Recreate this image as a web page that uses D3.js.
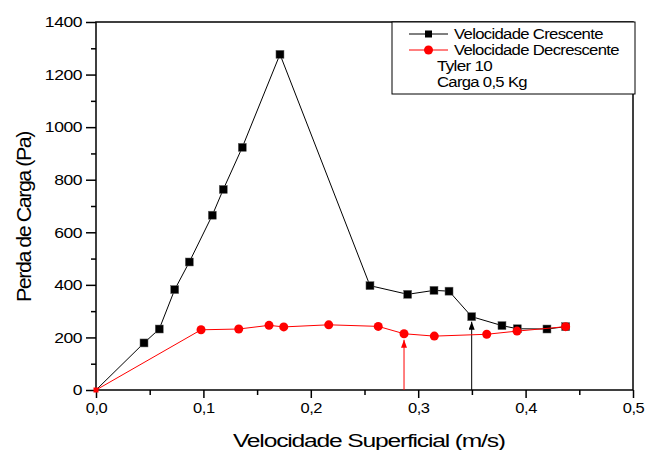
<!DOCTYPE html>
<html>
<head>
<meta charset="utf-8">
<script src="https://cdn.jsdelivr.net/npm/d3@7"></script>
<style>
  html, body { margin: 0; padding: 0; background: #fff; }
  svg { display: block; font-family: "Liberation Sans", Arial, sans-serif; }
</style>
</head>
<body>
<svg id="chart" width="646" height="450"></svg>
<script>
// ---- Data ----
const xBlack = [0, 0.0447, 0.0589, 0.0733, 0.0869, 0.1083, 0.1185, 0.1362, 0.1713, 0.2551, 0.2902, 0.3147, 0.3287, 0.3498, 0.378, 0.3923, 0.4199, 0.4373];
const yBlack = [0, 179, 232, 382, 487, 665, 763, 923, 1277, 397, 364, 379, 376, 279, 245, 233, 232, 241];
const xRed = [0, 0.0978, 0.1329, 0.1611, 0.1748, 0.2167, 0.2628, 0.2868, 0.315, 0.3638, 0.392, 0.4373];
const yRed = [0, 229, 232, 246, 240, 248, 242, 214, 205, 212, 224, 241];
const arrowRedIndex = 7;    // red arrow points to this red point
const arrowBlackIndex = 13; // black arrow points to this black point
const xTicks = [0, 0.1, 0.2, 0.3, 0.4, 0.5];
const xTickLabels = ["0,0", "0,1", "0,2", "0,3", "0,4", "0,5"];
const xMinor = [0.05, 0.15, 0.25, 0.35, 0.45];
const yTicks = [0, 200, 400, 600, 800, 1000, 1200, 1400];
const yMinor = [100, 300, 500, 700, 900, 1100, 1300];
const seriesNames = ["Velocidade Crescente", "Velocidade Decrescente"];
const noteLines = ["Tyler 10", "Carga 0,5 Kg"];
const xTitle = "Velocidade Superficial (m/s)";
const yTitle = "Perda de Carga (Pa)";

// ---- Layout ----
const L = 96, R = 633, T = 22, B = 390;
const svg = d3.select("#chart");
const x = d3.scaleLinear().domain([0, 0.5]).range([L, R]);
const y = d3.scaleLinear().domain([0, 1400]).range([B, T]);
const FONT = "'Liberation Sans', Arial, sans-serif";

// Axes
const gx = svg.append("g").attr("transform", `translate(0,${B})`)
  .call(d3.axisBottom(x).tickValues(xTicks).tickSize(8).tickPadding(4)
    .tickFormat((d, i) => xTickLabels[i]));
gx.call(g => g.select(".domain").remove());
gx.selectAll("line").attr("stroke", "#000").attr("stroke-width", 1.5);
gx.selectAll("text").attr("font-size", 15).attr("font-family", FONT).attr("fill", "#000")
  .attr("letter-spacing", -0.4).attr("transform", "scale(1.1,1)");

const gxm = svg.append("g").attr("transform", `translate(0,${B})`)
  .call(d3.axisBottom(x).tickValues(xMinor).tickSize(5).tickFormat(""));
gxm.call(g => g.select(".domain").remove());
gxm.selectAll("line").attr("stroke", "#000").attr("stroke-width", 1.5);

const gy = svg.append("g").attr("transform", `translate(${L},0)`)
  .call(d3.axisLeft(y).tickValues(yTicks).tickSize(10).tickPadding(4).tickFormat(d3.format("d")));
gy.call(g => g.select(".domain").remove());
gy.selectAll("line").attr("stroke", "#000").attr("stroke-width", 1.5);
gy.selectAll("text").attr("font-size", 15).attr("font-family", FONT).attr("fill", "#000")
  .attr("letter-spacing", -0.4)
  .attr("transform", "translate(-14,0) scale(1.17,1) translate(14,0)");

const gym = svg.append("g").attr("transform", `translate(${L},0)`)
  .call(d3.axisLeft(y).tickValues(yMinor).tickSize(5).tickFormat(""));
gym.call(g => g.select(".domain").remove());
gym.selectAll("line").attr("stroke", "#000").attr("stroke-width", 1.5);

// Frame
svg.append("rect").attr("x", L).attr("y", T).attr("width", R - L).attr("height", B - T)
  .attr("fill", "none").attr("stroke", "#000").attr("stroke-width", 1.5);

// Helper: text starting at (sx, sy), glyphs stretched to a target width
function fittedText(parent, str, sx, sy, size, targetW, ls) {
  const t = parent.append("text").attr("x", sx).attr("y", sy).attr("font-size", size)
    .attr("font-family", FONT).attr("fill", "#000").attr("letter-spacing", ls || 0).text(str);
  const w = t.node().getComputedTextLength();
  const f = targetW / w;
  t.attr("transform", `translate(${sx},0) scale(${f},1) translate(${-sx},0)`);
  return t;
}

// Titles
fittedText(svg, xTitle, 233, 447, 18.5, 272, -0.9);
const yt = svg.append("g").attr("transform", "translate(31,302) rotate(-90)");
fittedText(yt, yTitle, 0, 0, 20.5, 170, -1.4);

// Arrow markers
const defs = svg.append("defs");
[["arrRed", "#ff0000"], ["arrBlack", "#000"]].forEach(([id, c]) => {
  defs.append("marker").attr("id", id).attr("viewBox", "0 0 6 8").attr("refX", 3).attr("refY", 0)
    .attr("markerWidth", 6).attr("markerHeight", 8).attr("markerUnits", "userSpaceOnUse")
    .attr("orient", "0")
    .append("path").attr("d", "M0,8 L3,0 L6,8 Z").attr("fill", c);
});

// Series
const blackPts = xBlack.map((v, i) => [v, yBlack[i]]);
const redPts = xRed.map((v, i) => [v, yRed[i]]);
const line = d3.line().x(d => x(d[0])).y(d => y(d[1]));

svg.append("path").attr("d", line(blackPts)).attr("fill", "none").attr("stroke", "#000").attr("stroke-width", 1);
svg.append("g").selectAll("rect").data(blackPts.slice(1)).join("rect")
  .attr("x", d => x(d[0]) - 4).attr("y", d => y(d[1]) - 4).attr("width", 8).attr("height", 8)
  .attr("fill", "#000").attr("stroke", "#666").attr("stroke-width", 0.5);

// Arrows
const ab = blackPts[arrowBlackIndex];
svg.append("line").attr("x1", x(ab[0])).attr("x2", x(ab[0])).attr("y1", y(0)).attr("y2", y(ab[1]) + 5)
  .attr("stroke", "#000").attr("stroke-width", 1).attr("marker-end", "url(#arrBlack)");
const ar = redPts[arrowRedIndex];
svg.append("line").attr("x1", x(ar[0])).attr("x2", x(ar[0])).attr("y1", y(0)).attr("y2", y(ar[1]) + 6)
  .attr("stroke", "#ff0000").attr("stroke-width", 1).attr("marker-end", "url(#arrRed)");

svg.append("path").attr("d", line(redPts)).attr("fill", "none").attr("stroke", "#ff0000").attr("stroke-width", 1);
svg.append("g").selectAll("circle").data(redPts.slice(1)).join("circle")
  .attr("cx", d => x(d[0])).attr("cy", d => y(d[1])).attr("r", 4.5).attr("fill", "#ff0000");
svg.append("rect").attr("x", x(redPts[0][0]) - 2.5).attr("y", y(redPts[0][1]) - 2.5)
  .attr("width", 5).attr("height", 5).attr("fill", "#ff0000");

// Legend
const lg = svg.append("g");
lg.append("rect").attr("x", 392).attr("y", 22).attr("width", 243).attr("height", 72)
  .attr("fill", "#fff").attr("stroke", "#000").attr("stroke-width", 1);
const legendTargets = [149, 165];
const rowY = [34, 50];
seriesNames.forEach((name, i) => {
  const c = i === 0 ? "#000" : "#ff0000";
  lg.append("line").attr("x1", 409).attr("x2", 448).attr("y1", rowY[i]).attr("y2", rowY[i])
    .attr("stroke", c).attr("stroke-width", 1);
  if (i === 0) {
    lg.append("rect").attr("x", 425).attr("y", rowY[i] - 3.5).attr("width", 7).attr("height", 7).attr("fill", "#000");
  } else {
    lg.append("circle").attr("cx", 428.5).attr("cy", rowY[i]).attr("r", 4.5).attr("fill", "#ff0000");
  }
  fittedText(lg, name, 454, rowY[i] + 5, 14.5, legendTargets[i], -0.6);
});
const noteY = [71.5, 87];
const noteW = [55, 90];
noteLines.forEach((t, i) => fittedText(lg, t, 437, noteY[i], 14.5, noteW[i], -0.6));
</script>
</body>
</html>
